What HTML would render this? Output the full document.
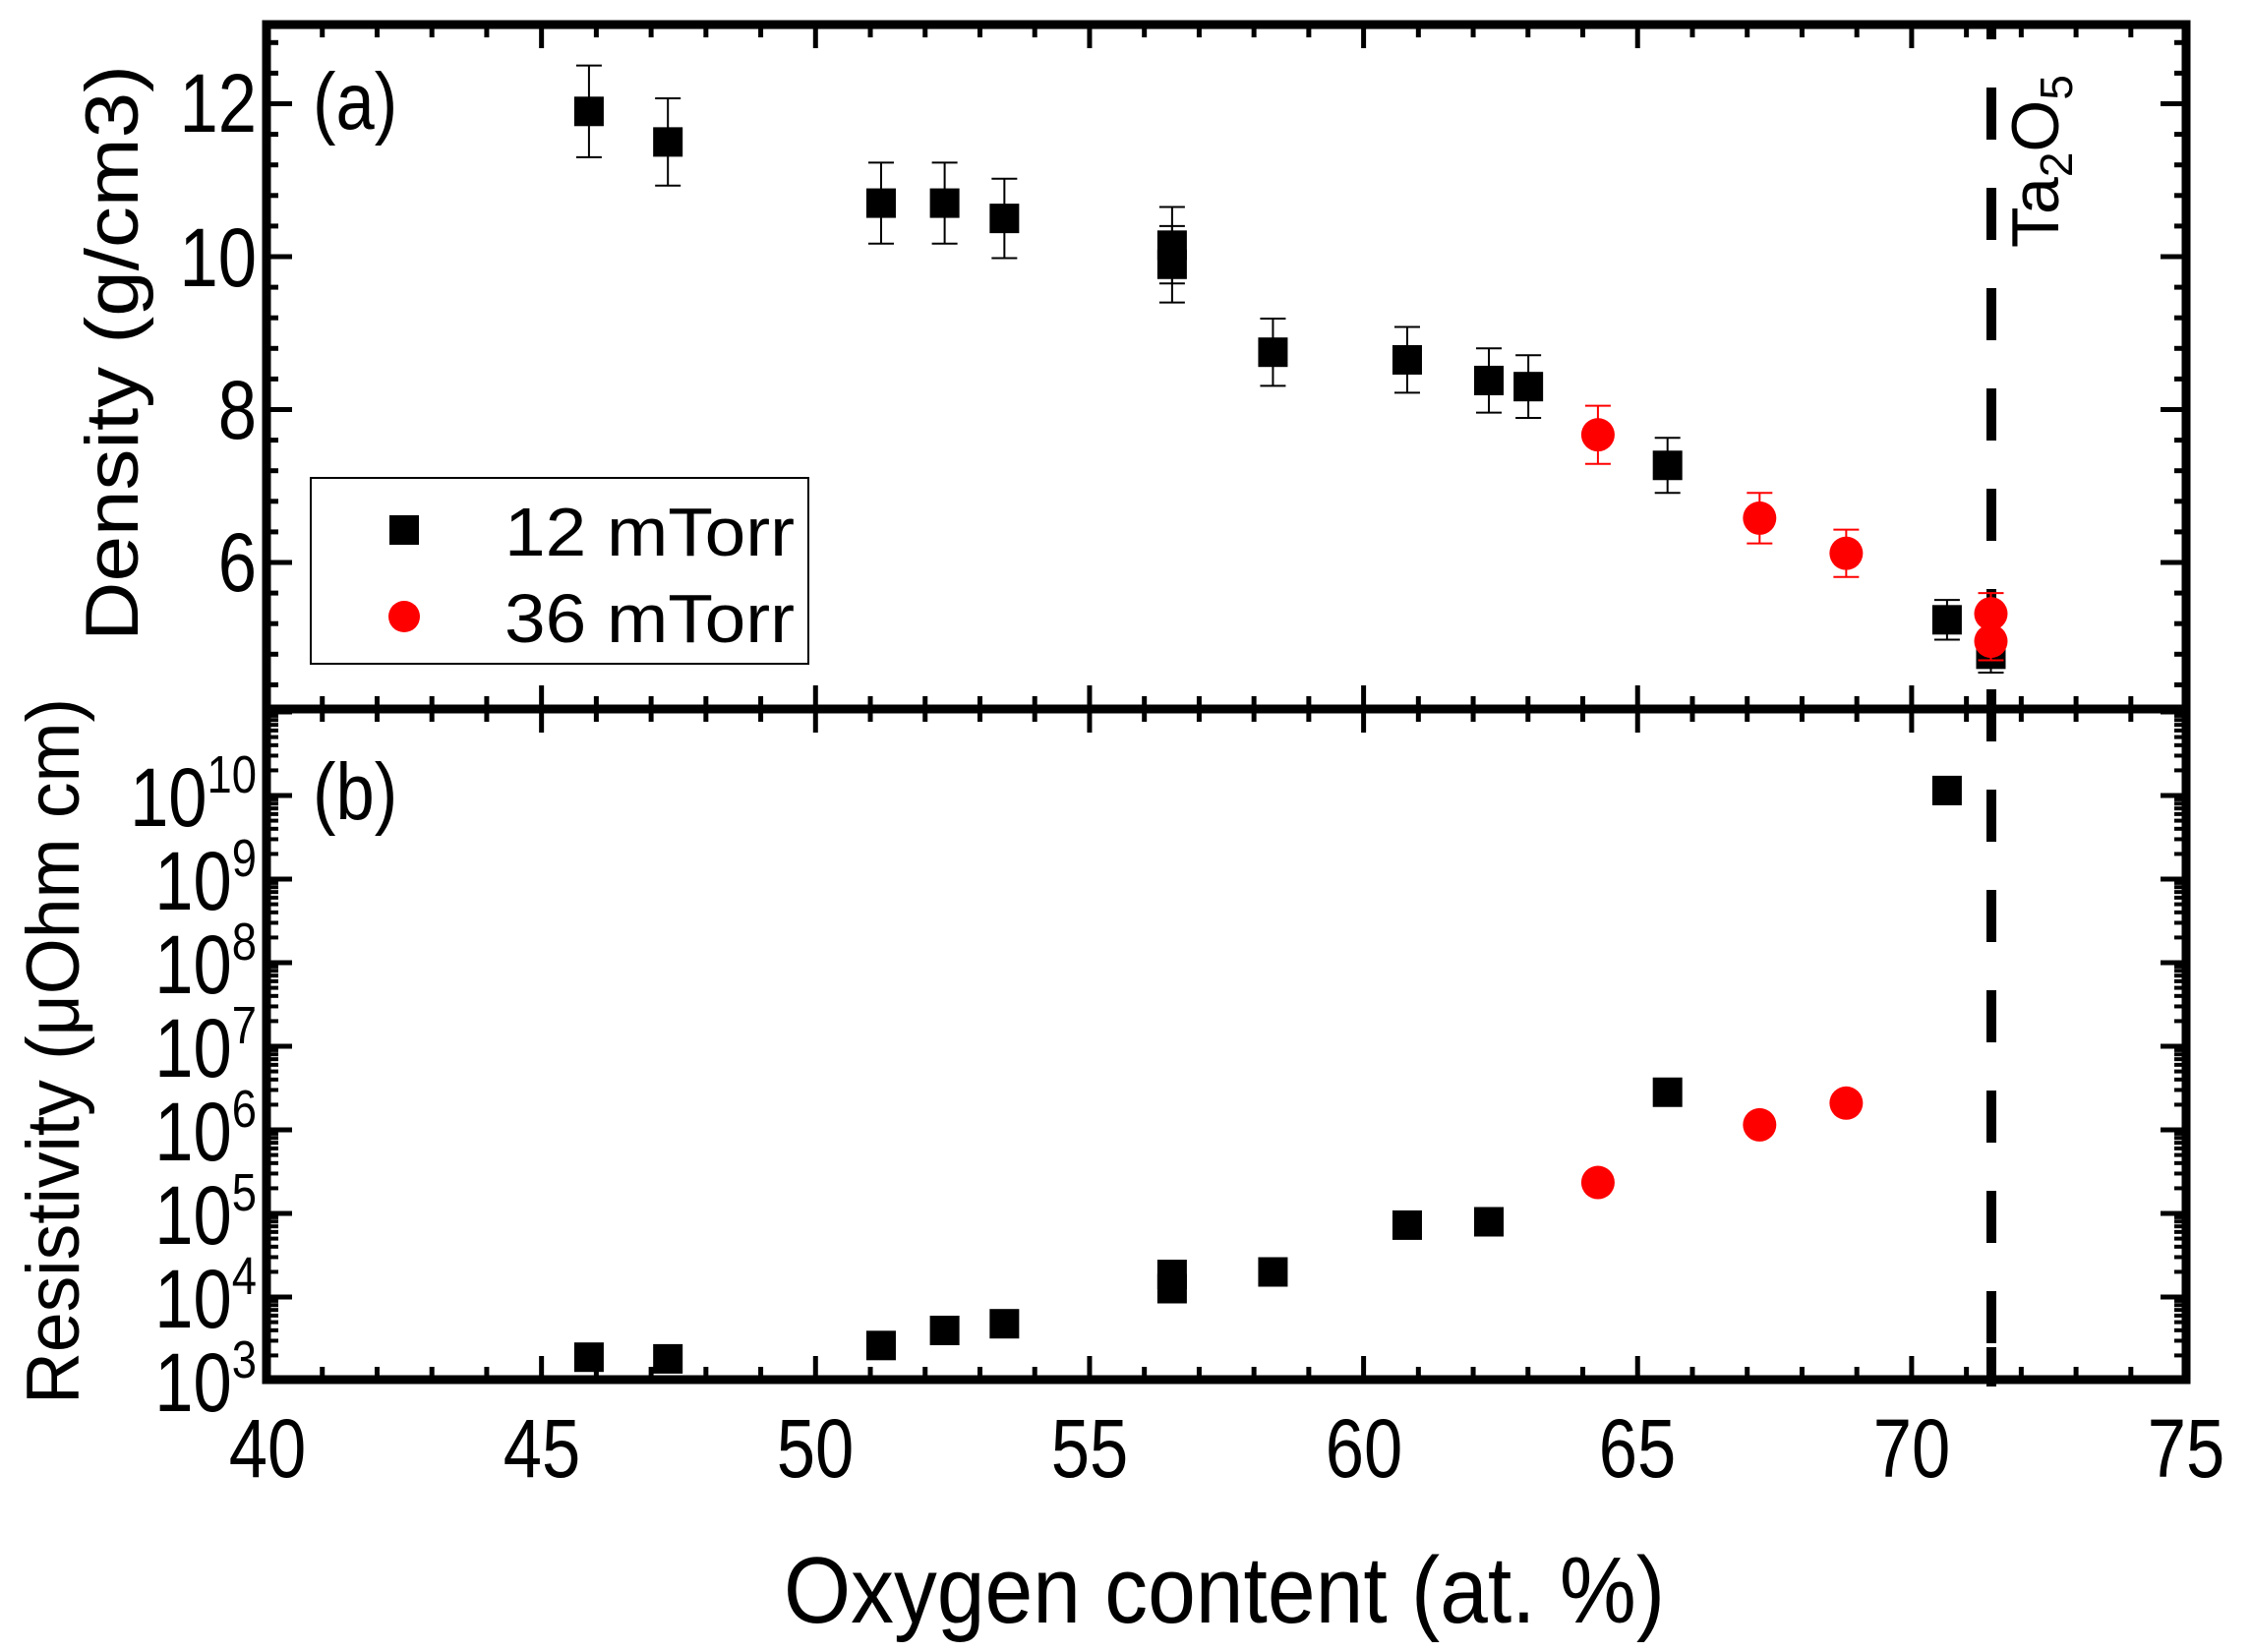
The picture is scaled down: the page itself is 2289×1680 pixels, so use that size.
<!DOCTYPE html>
<html><head><meta charset="utf-8"><style>
html,body{margin:0;padding:0;background:#fff;}
svg{display:block;font-family:"Liberation Sans",Arial,sans-serif;}
</style></head><body>
<svg id="s" width="2289" height="1680" viewBox="0 0 2289 1680" xmlns="http://www.w3.org/2000/svg">
<rect width="2289" height="1680" fill="#fff"/>
<g id="g"></g>
<rect x="271" y="25" width="1952" height="1378" fill="none" stroke="#000" stroke-width="9"/>
<line x1="271" y1="721" x2="2223" y2="721" stroke="#000" stroke-width="9"/>
<g font-size="84" text-anchor="middle" fill="#000">
<text transform="translate(272,1502) scale(0.84,1)">40</text>
<text transform="translate(551,1502) scale(0.84,1)">45</text>
<text transform="translate(829,1502) scale(0.84,1)">50</text>
<text transform="translate(1108,1502) scale(0.84,1)">55</text>
<text transform="translate(1387,1502) scale(0.84,1)">60</text>
<text transform="translate(1665,1502) scale(0.84,1)">65</text>
<text transform="translate(1944,1502) scale(0.84,1)">70</text>
<text transform="translate(2223,1502) scale(0.84,1)">75</text>
</g>
<g font-size="84" text-anchor="end" fill="#000">
<text transform="translate(261,134) scale(0.84,1)">12</text>
<text transform="translate(261,291) scale(0.84,1)">10</text>
<text transform="translate(261,446) scale(0.84,1)">8</text>
<text transform="translate(261,601) scale(0.84,1)">6</text>
</g>
<g font-size="84" text-anchor="end" fill="#000">
<text transform="translate(261,840) scale(0.84,1)">10<tspan font-size="54" dy="-34">10</tspan></text>
<text transform="translate(261,925) scale(0.84,1)">10<tspan font-size="54" dy="-34">9</tspan></text>
<text transform="translate(261,1010) scale(0.84,1)">10<tspan font-size="54" dy="-34">8</tspan></text>
<text transform="translate(261,1095) scale(0.84,1)">10<tspan font-size="54" dy="-34">7</tspan></text>
<text transform="translate(261,1180) scale(0.84,1)">10<tspan font-size="54" dy="-34">6</tspan></text>
<text transform="translate(261,1265) scale(0.84,1)">10<tspan font-size="54" dy="-34">5</tspan></text>
<text transform="translate(261,1350) scale(0.84,1)">10<tspan font-size="54" dy="-34">4</tspan></text>
<text transform="translate(261,1435) scale(0.84,1)">10<tspan font-size="54" dy="-34">3</tspan></text>
</g>
<text transform="translate(318,131) scale(0.86,1)" font-size="82">(a)</text>
<text transform="translate(318,833) scale(0.86,1)" font-size="82">(b)</text>
<text x="1245" y="1650" font-size="96" text-anchor="middle" textLength="896" lengthAdjust="spacingAndGlyphs">Oxygen content (at. %)</text>
<text transform="translate(140,359) rotate(-90)" font-size="76" text-anchor="middle" textLength="586" lengthAdjust="spacingAndGlyphs">Density (g/cm3)</text>
<text transform="translate(80,1069) rotate(-90)" font-size="76" text-anchor="middle" textLength="718" lengthAdjust="spacingAndGlyphs">Resistivity (μOhm cm)</text>
<text transform="translate(2093,252) rotate(-90)" font-size="68">Ta<tspan font-size="46" dy="14">2</tspan><tspan dy="-14">O</tspan><tspan font-size="46" dy="14">5</tspan></text>
<rect x="316" y="486" width="506" height="189" fill="#fff" stroke="#000" stroke-width="2"/>
<rect x="396" y="524" width="30" height="30" fill="#000"/>
<circle cx="411" cy="627" r="16" fill="#f00"/>
<text x="513" y="565" font-size="70" textLength="295" lengthAdjust="spacingAndGlyphs">12 mTorr</text>
<text x="513" y="653" font-size="70" textLength="295" lengthAdjust="spacingAndGlyphs">36 mTorr</text>
</svg>
<script>
(function(){
var g=document.getElementById('g'),NS='http://www.w3.org/2000/svg';
function el(t,a){var e=document.createElementNS(NS,t);for(var k in a)e.setAttribute(k,a[k]);g.appendChild(e);return e;}
function X(v){return 272+(v-40)*55.73;}
function Xd(v){return X(v)-3;}
function Ya(v){return 261-(v-10)*77.75;}
function Yb(L){return 1404-(L-3)*85;}
function ln(x1,y1,x2,y2,w,c){el('line',{x1:x1,y1:y1,x2:x2,y2:y2,stroke:c||'#000','stroke-width':w});}
for(var v=40;v<=75;v++){var x=X(v),M=v%5==0,L=M?24:13;
 ln(x,25,x,25+L,5); ln(x,721,x,721-L,5); ln(x,721,x,721+L,5); ln(x,1403,x,1403-L,5);}
for(var i=0;i<=22;i++){var v=4.4+i*0.4,y=Ya(v);if(y<28||y>718)continue;var M=Math.abs(v/2-Math.round(v/2))<0.01,L=M?26:12;
 ln(271,y,271+L,y,5); ln(2223,y,2223-L,y,5);}
for(var d=3;d<=11;d++){for(var m=1;m<10;m++){var Lg=d+Math.log10(m),y=Yb(Lg);if(y<724||y>1400)continue;var L=m==1?26:12;
 ln(271,y,271+L,y,m==1?5:4); ln(2223,y,2223-L,y,m==1?5:4);}}
function eb(x,y1,y2,c){ln(x,y1,x,y2,2,c);ln(x-13,y1,x+13,y1,2,c);ln(x-13,y2,x+13,y2,2,c);}
var sq=[[45.92,11.9,.6],[47.36,11.5,.57],[51.25,10.7,.53],[52.41,10.7,.53],[53.5,10.5,.52],[56.56,10.15,.5],[56.56,9.9,.5],[58.4,8.75,.44],[60.85,8.65,.43],[62.34,8.38,.42],[63.06,8.3,.41],[65.6,7.27,.36],[70.7,5.25,.26],[71.5,4.8,.24]];
var rc=[[64.33,7.67,.38],[67.28,6.58,.33],[68.86,6.12,.31],[71.5,5.33,.27],[71.5,4.97,.25]];
var sqb=[[45.92,3.28],[47.36,3.26],[51.25,3.42],[52.41,3.6],[53.5,3.68],[56.56,4.27],[56.56,4.1],[58.4,4.3],[60.85,4.86],[62.34,4.9],[65.6,6.45],[70.7,10.06]];
var rcb=[[64.33,5.37],[67.28,6.06],[68.86,6.32]];
sq.forEach(function(p){var x=Xd(p[0]);eb(x,Ya(p[1]+p[2]),Ya(p[1]-p[2]));el('rect',{x:x-15,y:Ya(p[1])-15,width:30,height:30,fill:'#000'});});
sqb.forEach(function(p){var x=Xd(p[0]);el('rect',{x:x-15,y:Yb(p[1])-15,width:30,height:30,fill:'#000'});});
el('line',{x1:2025,y1:25,x2:2025,y2:1410,stroke:'#000','stroke-width':10,'stroke-dasharray':'53 49','stroke-dashoffset':'-64'});
el('line',{x1:2025,y1:1370,x2:2025,y2:1410,stroke:'#000','stroke-width':10});
rc.forEach(function(p){var x=Xd(p[0]);eb(x,Ya(p[1]+p[2]),Ya(p[1]-p[2]),'#f00');el('circle',{cx:x,cy:Ya(p[1]),r:17,fill:'#f00'});});
rcb.forEach(function(p){el('circle',{cx:Xd(p[0]),cy:Yb(p[1]),r:17,fill:'#f00'});});
})();
</script>
</body></html>
